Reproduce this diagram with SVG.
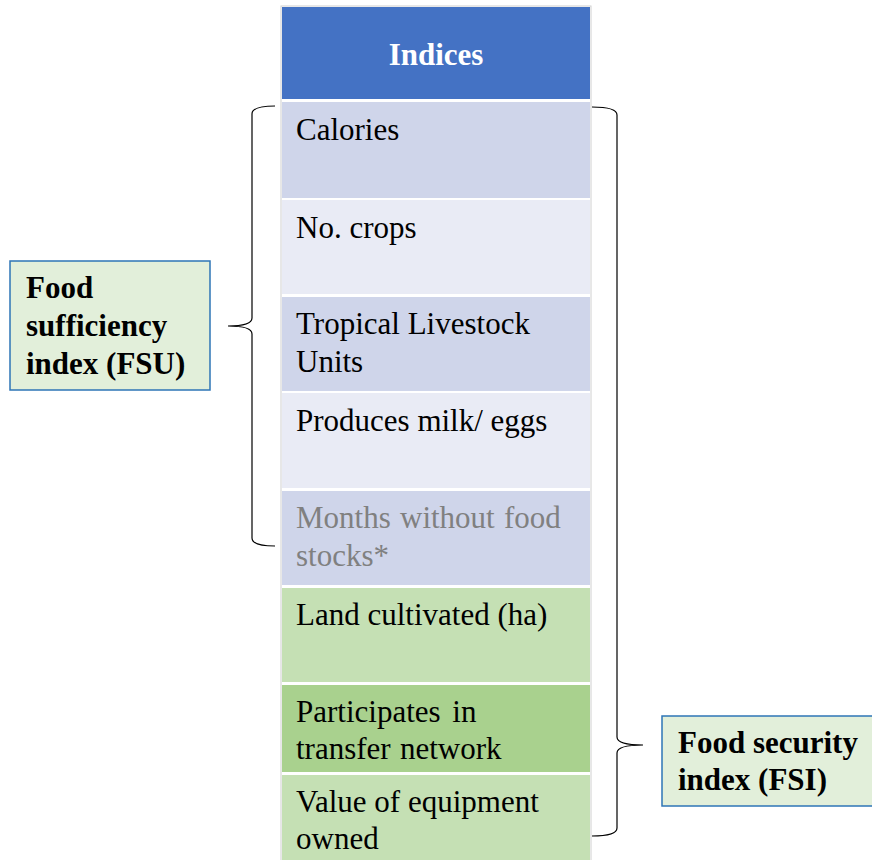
<svg xmlns="http://www.w3.org/2000/svg" width="872" height="860" viewBox="0 0 872 860">
<style>
text{font-family:"Liberation Serif","Times New Roman","DejaVu Serif",serif;font-size:31px;fill:#000}
.b{font-weight:bold}
.g{fill:#808080}
.w{fill:#fff}
.brace{fill:none;stroke:#000;stroke-width:1.2}
.box{fill:#E2EFDA;stroke:#2E75B6;stroke-width:1.5}
</style>
<rect x="0" y="0" width="872" height="860" fill="#fff"/>
<g id="table">
<rect x="281" y="6" width="310" height="860" fill="#fff" stroke="#d0d0d0" stroke-width="1"/>
<rect x="282" y="7" width="308" height="92" fill="#4472C4"/>
<text class="b w" x="436" y="65" text-anchor="middle">Indices</text>
</g>
<g id="row-calories"><rect x="282" y="102" width="308" height="96" fill="#CFD5EA"/><text x="296" y="140">Calories</text></g>
<g id="row-crops"><rect x="282" y="200" width="308" height="94" fill="#E9EBF5"/><text x="296" y="238">No. crops</text></g>
<g id="row-tlu"><rect x="282" y="297" width="308" height="94" fill="#CFD5EA"/><text x="296" y="334">Tropical Livestock</text><text x="296" y="372">Units</text></g>
<g id="row-milk"><rect x="282" y="393" width="308" height="95" fill="#E9EBF5"/><text x="296" y="431">Produces milk/ eggs</text></g>
<g id="row-months"><rect x="282" y="491" width="308" height="94" fill="#CFD5EA"/><text class="g" x="296" y="528" word-spacing="1.5">Months without food</text><text class="g" x="296" y="566">stocks*</text></g>
<g id="row-land"><rect x="282" y="588" width="308" height="94" fill="#C5E0B4"/><text x="296" y="625">Land cultivated (ha)</text></g>
<g id="row-transfer"><rect x="282" y="685" width="308" height="87" fill="#A9D18E"/><text x="296" y="722" word-spacing="4">Participates in</text><text x="296" y="759" word-spacing="1.5">transfer network</text></g>
<g id="row-equipment"><rect x="282" y="775" width="308" height="85" fill="#C5E0B4"/><text x="296" y="812">Value of equipment</text><text x="296" y="849">owned</text></g>
<g id="fsu"><rect class="box" x="10" y="261" width="200" height="129"/><text class="b" x="26" y="298">Food</text><text class="b" x="26" y="336">sufficiency</text><text class="b" x="26" y="374">index (FSU)</text></g>
<g id="fsi"><rect class="box" x="662" y="716" width="215" height="90"/><text class="b" x="678" y="753">Food security</text><text class="b" x="678" y="790">index (FSI)</text></g>
<g id="connectors">
<path class="brace" d="M275,106 Q252,106 252,114 L252,318 Q252,326 228,326 Q252,326 252,334 L252,538 Q252,546 275,546"/>
<path class="brace" d="M592,107 Q617,107 617,115 L617,737 Q617,745 643,745 Q617,745 617,753 L617,828 Q617,836 592,836"/>
</g>
</svg>
